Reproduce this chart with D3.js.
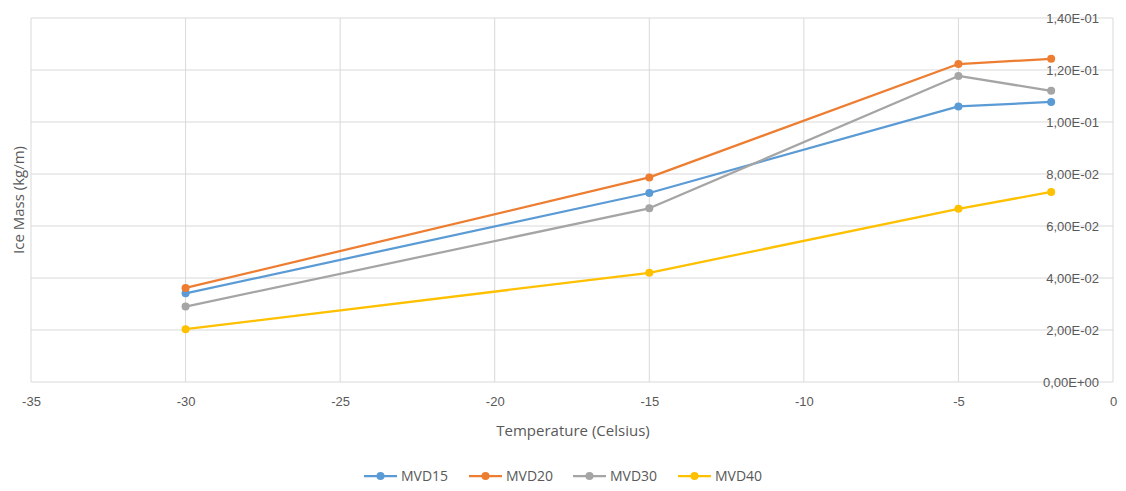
<!DOCTYPE html>
<html>
<head>
<meta charset="utf-8">
<script src="https://cdn.jsdelivr.net/npm/d3@7"></script>
<style>
  html, body { margin: 0; padding: 0; background: #fff; }
  svg { display: block; font-family: "Open Sans", "Noto Sans", "Liberation Sans", sans-serif; }
</style>
</head>
<body>
<svg id="chart" width="1126" height="491"></svg>
<script>
// Temperatures (°C) at which ice mass was measured
const temperatures = [-30, -15, -5, -2];

// Ice mass (kg/m) per droplet size series
const seriesNames = ["MVD15", "MVD20", "MVD30", "MVD40"];
const mvd15 = [0.0341, 0.0727, 0.1060, 0.1077];
const mvd20 = [0.0362, 0.0787, 0.1223, 0.1243];
const mvd30 = [0.0290, 0.0668, 0.1177, 0.1120];
const mvd40 = [0.0203, 0.0420, 0.0666, 0.0731];
const seriesColors = ["#5B9BD5", "#ED7D31", "#A5A5A5", "#FFC000"];

// Axis ticks
const xTicks = [-35, -30, -25, -20, -15, -10, -5, 0];
const yTicks = [0, 0.02, 0.04, 0.06, 0.08, 0.10, 0.12, 0.14];

const series = [mvd15, mvd20, mvd30, mvd40].map((vals, i) => ({
  name: seriesNames[i],
  color: seriesColors[i],
  points: vals.map((v, j) => ({ t: temperatures[j], v }))
}));

const svg = d3.select("#chart");
const plot = { left: 31, right: 1113, top: 18, bottom: 382 };

const x = d3.scaleLinear().domain([-35, 0]).range([plot.left, plot.right]);
const y = d3.scaleLinear().domain([0, 0.14]).range([plot.bottom, plot.top]);

const gridColor = "#d9d9d9";
const textColor = "#595959";

// Horizontal gridlines
svg.append("g").selectAll("line").data(yTicks).join("line")
  .attr("x1", plot.left).attr("x2", plot.right)
  .attr("y1", d => y(d)).attr("y2", d => y(d))
  .attr("stroke", gridColor).attr("stroke-width", 1);

// Vertical gridlines
svg.append("g").selectAll("line").data(xTicks).join("line")
  .attr("x1", d => x(d)).attr("x2", d => x(d))
  .attr("y1", plot.top).attr("y2", plot.bottom)
  .attr("stroke", gridColor).attr("stroke-width", 1);

// Bottom axis labels
const fmtX = d => d === 0 ? "0" : "-" + Math.abs(d);
const xAxis = d3.axisBottom(x).tickValues(xTicks).tickSize(0).tickPadding(15).tickFormat(fmtX);
const gx = svg.append("g").attr("transform", `translate(0,${plot.bottom})`).call(xAxis);
gx.select(".domain").remove();
gx.selectAll("text").attr("fill", textColor).style("font-size", "13px").style("font-family", "inherit");

// Value axis at x = 0, labels to its left
const fmtY = d => {
  if (d === 0) return "0,00E+00";
  const e = Math.floor(Math.log10(d) + 1e-9);
  const m = d / Math.pow(10, e);
  const es = (e < 0 ? "-" : "+") + String(Math.abs(e)).padStart(2, "0");
  return m.toFixed(2).replace(".", ",") + "E" + es;
};
const yAxis = d3.axisLeft(y).tickValues(yTicks).tickSize(0).tickPadding(14).tickFormat(fmtY);
const gy = svg.append("g").attr("transform", `translate(${plot.right},0)`).call(yAxis);
gy.select(".domain").remove();
gy.selectAll("text").attr("fill", textColor).style("font-size", "13px").style("font-family", "inherit");

// Axis titles
svg.append("text")
  .attr("x", (plot.left + plot.right) / 2 + 1).attr("y", 436)
  .attr("text-anchor", "middle").attr("fill", textColor)
  .style("font-size", "15px")
  .text("Temperature (Celsius)");

svg.append("text")
  .attr("transform", `translate(24,${(plot.top + plot.bottom) / 2}) rotate(-90)`)
  .attr("text-anchor", "middle").attr("fill", textColor)
  .style("font-size", "15px")
  .text("Ice Mass (kg/m)");

// Series lines and markers
const line = d3.line().x(d => x(d.t)).y(d => y(d.v));
const gs = svg.append("g");
series.forEach(s => {
  gs.append("path").datum(s.points)
    .attr("d", line).attr("fill", "none")
    .attr("stroke", s.color).attr("stroke-width", 2.25)
    .attr("stroke-linejoin", "round").attr("stroke-linecap", "round");
  gs.append("g").selectAll("circle").data(s.points).join("circle")
    .attr("cx", d => x(d.t)).attr("cy", d => y(d.v)).attr("r", 4)
    .attr("fill", s.color);
});

// Legend
const legendX = [364, 469, 573, 678];
const legendY = 476;
const lg = svg.append("g");
series.forEach((s, i) => {
  const g = lg.append("g").attr("transform", `translate(${legendX[i]},${legendY})`);
  g.append("line").attr("x1", 0).attr("x2", 33).attr("y1", 0).attr("y2", 0)
    .attr("stroke", s.color).attr("stroke-width", 2.25);
  g.append("circle").attr("cx", 16.5).attr("cy", 0).attr("r", 4).attr("fill", s.color);
  g.append("text").attr("x", 37).attr("y", 0).attr("dy", "0.35em")
    .attr("fill", textColor).style("font-size", "14px").text(s.name);
});
</script>
</body>
</html>
